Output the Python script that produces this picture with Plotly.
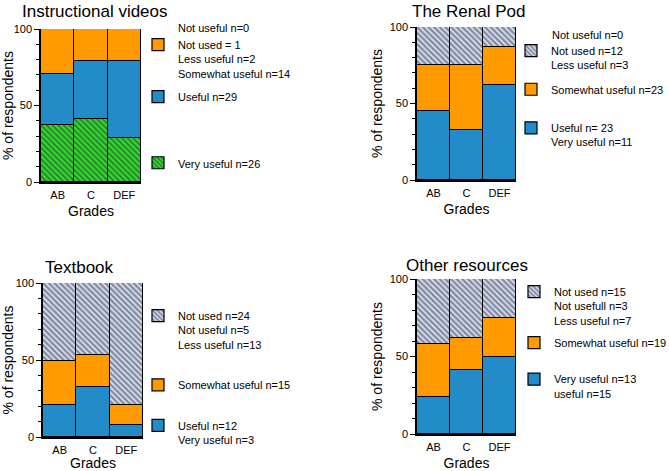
import plotly.graph_objects as go

grades = ["AB", "C", "DEF"]

# segment heights (% of respondents), bottom to top
videos_very = [37, 41.5, 29]
videos_useful = [33.5, 37.5, 50]
videos_notused = [29.5, 21, 21]

renal_useful = [45, 33, 62]
renal_somewhat = [30, 42, 25]
renal_notused = [25, 25, 13]

textbook_useful = [21, 32.5, 7.5]
textbook_somewhat = [28.5, 21, 13]
textbook_notused = [50.5, 46.5, 79.5]

other_useful = [24, 41.5, 50]
other_somewhat = [34, 20.5, 25]
other_notused = [42, 38, 25]

W, H = 669, 471
FONT = "Liberation Sans, Arial, sans-serif"
ORANGE = "#FF9A00"
BLUE = "#238CC8"
outline = dict(color="black", width=1.2)
green_hatch = dict(shape="\\", fgcolor="#1f2a1f", bgcolor="#33DD33", size=4, solidity=0.5)
gray_hatch = dict(shape="\\", fgcolor="#1f2c55", bgcolor="#e2e7f0", size=4, solidity=0.6)

fig = go.Figure()


def add_bar(y, name, n, legend, rank, color=None, pattern=None):
    marker = dict(line=outline)
    if pattern is not None:
        marker["color"] = pattern["bgcolor"]
        marker["pattern"] = pattern
    else:
        marker["color"] = color
    fig.add_trace(go.Bar(
        x=grades, y=y, name=name, marker=marker,
        xaxis="x" if n == 1 else "x%d" % n,
        yaxis="y" if n == 1 else "y%d" % n,
        legend=legend, legendgroup=legend + name, legendrank=rank,
    ))


# panel 1 - instructional videos
add_bar(videos_very, "Very useful n=26", 1, "legend", 3, pattern=green_hatch)
add_bar(videos_useful, "Useful n=29<br> <br> <br> ", 1, "legend", 2, color=BLUE)
add_bar(videos_notused, "Not used = 1<br>Less useful n=2<br>Somewhat useful n=14", 1, "legend", 1, color=ORANGE)

# panel 2 - renal pod
add_bar(renal_useful, "Useful n= 23<br>Very useful n=11", 2, "legend2", 3, color=BLUE)
add_bar(renal_somewhat, "Somewhat useful n=23<br> ", 2, "legend2", 2, color=ORANGE)
add_bar(renal_notused, "Not used n=12<br>Less useful n=3", 2, "legend2", 1, pattern=gray_hatch)

# panel 3 - textbook
add_bar(textbook_useful, "Useful n=12<br>Very useful n=3", 3, "legend3", 3, color=BLUE)
add_bar(textbook_somewhat, "Somewhat useful n=15<br> ", 3, "legend3", 2, color=ORANGE)
add_bar(textbook_notused, "Not used n=24<br>Not useful n=5<br>Less useful n=13<br> ", 3, "legend3", 1, pattern=gray_hatch)

# panel 4 - other resources
add_bar(other_useful, "Very useful n=13<br>useful n=15", 4, "legend4", 3, color=BLUE)
add_bar(other_somewhat, "Somewhat useful n=19<br> ", 4, "legend4", 2, color=ORANGE)
add_bar(other_notused, "Not used n=15<br>Not usefull n=3<br>Less useful n=7", 4, "legend4", 1, pattern=gray_hatch)

# plot areas in pixels: (left, right, top, bottom)
boxes = {
    1: (41, 141, 29, 182),
    2: (417, 516, 27, 180),
    3: (43, 143, 283, 437),
    4: (417, 516, 279, 434),
}

for n, (l, r, t, b) in boxes.items():
    sx = "" if n == 1 else str(n)
    fig.layout["xaxis" + sx] = dict(
        domain=[l / W, r / W], anchor="y" + sx, type="category",
        range=[-0.5, 2.5], showline=True, linecolor="black", linewidth=1.5,
        ticks="", ticklabelstandoff=2, tickfont=dict(size=11, color="black"),
        title=dict(text="Grades", font=dict(size=14, color="black"), standoff=6),
        showgrid=False, zeroline=False, fixedrange=True,
    )
    fig.layout["yaxis" + sx] = dict(
        domain=[1 - b / H, 1 - t / H], anchor="x" + sx,
        range=[0, 100], tickvals=[0, 50, 100], showline=True,
        linecolor="black", linewidth=1.5, ticks="outside", ticklen=5,
        tickwidth=1.2, tickcolor="black",
        minor=dict(dtick=10, ticks="outside", ticklen=3, tickcolor="black", tickwidth=1),
        tickfont=dict(size=11, color="black"),
        title=dict(text="% of respondents", font=dict(size=14, color="black"), standoff=4),
        showgrid=False, zeroline=False, fixedrange=True,
    )

legend_common = dict(
    xanchor="left", yanchor="top", valign="top", bgcolor="rgba(0,0,0,0)",
    font=dict(size=11, color="black", family=FONT),
    traceorder="grouped", itemwidth=30,
)
fig.update_layout(
    legend=dict(x=138 / W, y=1 - 31 / H, tracegroupgap=6, **legend_common),
    legend2=dict(x=511 / W, y=1 - 37 / H, tracegroupgap=7, **legend_common),
    legend3=dict(x=138 / W, y=1 - 302 / H, tracegroupgap=9, **legend_common),
    legend4=dict(x=514 / W, y=1 - 278 / H, tracegroupgap=5, **legend_common),
)

# panel titles: (text, left px, top px)
titles = [
    ("Instructional videos", 20, 0),
    ("The Renal Pod", 410, 0),
    ("Textbook", 43, 256),
    ("Other resources", 404, 254),
]
for text, px, py in titles:
    fig.add_annotation(text=text, x=px / W, y=1 - py / H, xref="paper", yref="paper",
                       xanchor="left", yanchor="top", showarrow=False,
                       font=dict(size=17, color="black"))

# legend lines without a swatch
for px, py in [(176, 28), (550, 35)]:
    fig.add_annotation(text="Not useful n=0", x=px / W, y=1 - py / H, xref="paper", yref="paper",
                       xanchor="left", yanchor="middle", showarrow=False,
                       font=dict(size=11, color="black"))

fig.update_layout(
    width=W, height=H, margin=dict(l=0, r=0, t=0, b=0, autoexpand=False),
    barmode="stack", bargap=0,
    paper_bgcolor="white", plot_bgcolor="white",
    font=dict(family=FONT, color="black"),
)

# page has a default 8px body margin, drop it so the figure fills the window
fig.write_html("out.html", config={"displayModeBar": False},
               post_script="document.body.style.margin = '0';")
